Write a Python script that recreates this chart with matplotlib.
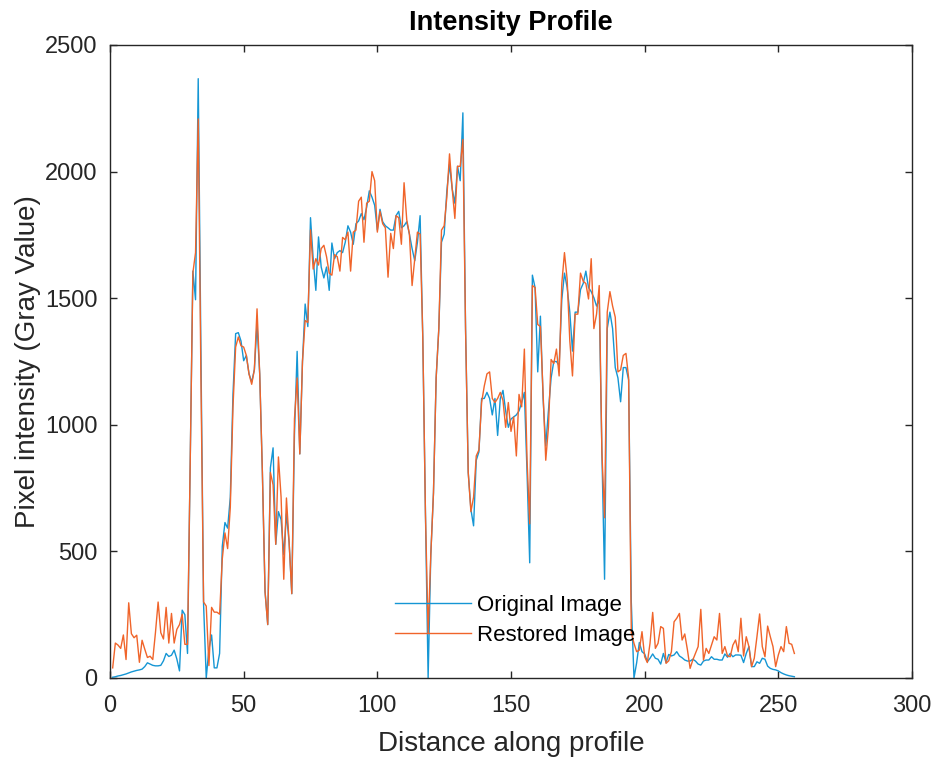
import numpy as np
import matplotlib
matplotlib.use('Agg')
import matplotlib.pyplot as plt

plt.rcParams['font.family'] = ['Liberation Sans', 'DejaVu Sans']

# distance along profile (pixel index)
distance = np.arange(1, 257)

# original image profile
original = [
    3, 5, 8, 10, 13, 16, 20, 24, 27, 30,
    32, 35, 45, 60, 55, 50, 48, 48, 50, 68,
    97, 85, 90, 110, 75, 28, 268, 250, 97, 850,
    1607, 1494, 2367, 1300, 292, 0, 114, 170, 40, 40,
    97, 520, 614, 592, 714, 1120, 1360, 1364, 1331, 1253,
    1274, 1201, 1169, 1218, 1396, 1201, 812, 341, 211, 830,
    909, 528, 657, 625, 487, 649, 536, 333, 960, 1290,
    885, 1250, 1477, 1388, 1818, 1656, 1531, 1742, 1623, 1580,
    1623, 1531, 1718, 1656, 1680, 1688, 1680, 1721, 1786, 1761,
    1713, 1794, 1805, 1834, 1810, 1859, 1924, 1899, 1867, 1769,
    1851, 1802, 1786, 1778, 1769, 1769, 1826, 1843, 1778, 1786,
    1802, 1753, 1696, 1648, 1721, 1826, 1347, 649, 0, 487,
    731, 1185, 1380, 1721, 1753, 1924, 2029, 1932, 1875, 2021,
    1964, 2232, 1380, 812, 666, 601, 860, 893, 1104, 1104,
    1128, 1104, 1039, 1104, 958, 1104, 1136, 1055, 990, 1023,
    1031, 1039, 1055, 1088, 1128, 812, 455, 1591, 1542, 1209,
    1429, 1104, 917, 1055, 1185, 1250, 1250, 1234, 1494, 1599,
    1542, 1445, 1291, 1445, 1445, 1534, 1558, 1607, 1542, 1526,
    1502, 1469, 1494, 893, 390, 1380, 1445, 1380, 1226, 1185,
    1091, 1226, 1226, 1177, 300, 0, 60, 140, 104, 95,
    64, 78, 95, 78, 74, 55, 97, 61, 93, 87,
    91, 104, 87, 80, 71, 67, 67, 74, 67, 55,
    51, 67, 71, 71, 84, 74, 74, 71, 71, 95,
    82, 97, 84, 91, 91, 90, 61, 97, 124, 45,
    45, 64, 58, 78, 74, 47, 38, 34, 32, 28,
    21, 16, 12, 9, 7, 5,
]

# restored image profile
restored = [
    40, 138, 130, 117, 170, 73, 297, 175, 159, 169,
    62, 149, 114, 81, 86, 73, 179, 300, 179, 154,
    279, 138, 255, 138, 192, 211, 252, 133, 133, 850,
    1600, 1680, 2208, 1200, 300, 284, 49, 279, 260, 260,
    252, 470, 573, 511, 674, 1070, 1307, 1347, 1312, 1307,
    1274, 1201, 1160, 1218, 1458, 1201, 812, 341, 211, 812,
    763, 528, 873, 714, 390, 711, 536, 333, 1023, 1185,
    885, 1250, 1412, 1404, 1770, 1615, 1656, 1631, 1696, 1709,
    1664, 1599, 1591, 1672, 1664, 1607, 1740, 1731, 1761, 1607,
    1761, 1769, 1883, 1899, 1721, 1875, 1883, 2000, 1964, 1761,
    1843, 1794, 1778, 1583, 1756, 1696, 1826, 1818, 1713, 1956,
    1810, 1753, 1550, 1656, 1761, 1753, 1347, 649, 179, 487,
    731, 1185, 1380, 1769, 1786, 1899, 2070, 1932, 1815, 2021,
    2021, 2127, 1380, 812, 657, 714, 877, 901, 1088, 1153,
    1201, 1209, 1104, 1088, 1104, 1128, 1096, 990, 1088, 974,
    1031, 877, 1120, 1071, 1299, 860, 609, 1550, 1542, 1396,
    1388, 1120, 860, 990, 1258, 1242, 1299, 1193, 1558, 1680,
    1575, 1331, 1193, 1437, 1437, 1599, 1567, 1558, 1497, 1656,
    1380, 1437, 1550, 893, 633, 1445, 1526, 1469, 1425, 1209,
    1217, 1274, 1282, 1185, 179, 137, 104, 110, 183, 84,
    61, 137, 259, 117, 137, 203, 196, 58, 68, 104,
    222, 236, 255, 150, 174, 111, 38, 71, 97, 124,
    271, 71, 117, 97, 130, 163, 150, 255, 97, 124,
    87, 84, 130, 150, 104, 236, 87, 163, 124, 45,
    78, 163, 253, 124, 84, 205, 163, 124, 45, 91,
    124, 104, 203, 137, 133, 97,
]

x_ticks = [0, 50, 100, 150, 200, 250, 300]
y_ticks = [0, 500, 1000, 1500, 2000, 2500]

fig = plt.figure(figsize=(9.36, 7.6), dpi=100)
ax = fig.add_axes([110 / 936, 1 - 678 / 760, 802 / 936, 633 / 760])

ax.plot(distance, original, color='#1596d4', linewidth=1.0, label='Original Image')
ax.plot(distance, restored, color='#f0642a', linewidth=1.0, label='Restored Image')

ax.set_xlim(0, 300)
ax.set_ylim(0, 2500)
ax.set_xticks(x_ticks)
ax.set_yticks(y_ticks)

axis_col = '#262626'
for side in ax.spines.values():
    side.set_color(axis_col)
    side.set_linewidth(1.0)
ax.tick_params(direction='in', length=5, width=1.0, top=True, right=True,
               colors=axis_col, labelsize=17)
ax.tick_params(axis='x', pad=12)
ax.tick_params(axis='y', pad=9)

ax.set_xlabel('Distance along profile', fontsize=20, color=axis_col, labelpad=10)
ax.set_ylabel('Pixel intensity (Gray Value)', fontsize=20, color=axis_col, labelpad=3)
ax.set_title('Intensity Profile', fontsize=19.5, fontweight='bold', pad=11)

ax.legend(loc='center left', bbox_to_anchor=(395 / 936, 1 - 620.5 / 760),
          bbox_transform=fig.transFigure, frameon=False, fontsize=16,
          borderpad=0, borderaxespad=0, handlelength=3.4, handletextpad=0.3,
          labelspacing=0.4)

fig.savefig('out.png', dpi=100)
